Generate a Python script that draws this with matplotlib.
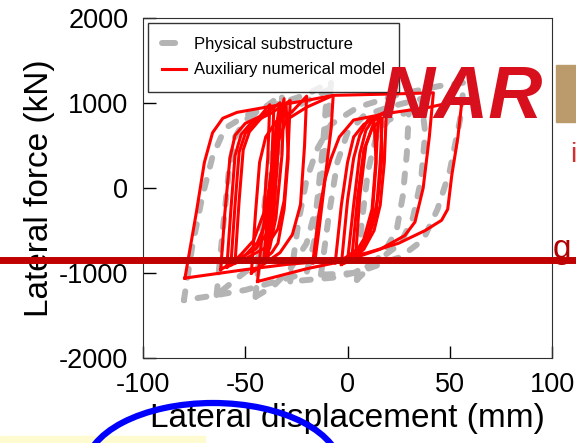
import numpy as np
import matplotlib
matplotlib.use('Agg')
import matplotlib.pyplot as plt
from matplotlib.patches import Arc, Rectangle
from matplotlib.lines import Line2D

plt.rcParams['font.family'] = ['Liberation Sans', 'DejaVu Sans']
plt.rcParams['axes.unicode_minus'] = False

# Physical substructure: one row per loading cycle (displacement mm, force kN)
phys_disp = [
    [-80, -76, -71, -66, -60, -50, -35, -20, -8, -10, -13, -16, -20, -35, -50, -64, -80],
    [-64, -61, -58, -55, -50, -42, -32, -33, -36, -40, -48, -56, -64],
    [-45, -42, -39, -35, -30, -22, -10, -12, -15, -20, -28, -36, -45],
    [-28, -24, -20, -15, -8, 5, 25, 45, 57, 55, 50, 46, 44, 37, 26, 10, -5, -28],
    [-13, -9, -5, 0, 8, 20, 36, 38, 36, 32, 26, 15, 4, -13],
    [4.6, 7, 10, 14, 20, 30, 29, 27, 24, 18, 12, 4.6],
]
phys_force = [
    [-1320, -700, -100, 370, 700, 850, 980, 1100, 1250, 700, 0, -600, -1000, -1100, -1200, -1260, -1320],
    [-1260, -500, 200, 600, 800, 920, 1100, 400, -300, -700, -950, -1100, -1260],
    [-1280, -500, 150, 600, 850, 1000, 1150, 500, -200, -650, -950, -1150, -1280],
    [-1100, -400, 100, 450, 750, 950, 1100, 1200, 1240, 800, 200, -100, -250, -610, -810, -950, -1050, -1100],
    [-1020, -300, 300, 650, 850, 950, 1050, 650, 100, -350, -650, -850, -1000, -1020],
    [-1080, -400, 200, 600, 800, 900, 400, -100, -500, -750, -900, -1080],
]

# Auxiliary numerical model
aux_disp = [
    [-79.5, -74, -70, -66, -61, -54, -40, -20, -7, -8, -11, -14, -16, -30, -50, -79.5],
    [-62, -60, -57.5, -55, -50, -42, -33, -34, -36, -39, -45, -53, -62],
    [-59, -57, -55, -52, -47, -38, -28, -29, -31, -34, -40, -49, -59],
    [-57, -55, -53, -50, -45, -38, -39, -41, -46, -52, -57],
    [-55, -53, -51, -48, -43, -36, -37, -39, -44, -50, -55],
    [-47, -45, -43, -40, -35, -27, -20, -21, -23, -27, -33, -40, -47],
    [-41, -38, -35, -33, -34, -36, -39, -41],
    [-40, -37, -34, -31, -32, -35, -38, -40],
    [-39, -36, -33, -30, -29, -31, -34, -37, -39],
    [-17, -14, -11, -8, -4, 3, 20, 40, 56, 54, 51, 49, 46, 38, 25, 10, -5, -17],
    [-44, -42, -39, -36, -30, -20, -7, 20, 42, 40, 37, 33, 28, 16, 0, -20, -44],
    [-6, -3, 0, 3, 8, 16, 17, 15, 12, 6, -1, -6],
    [-3, 0, 3, 6, 10, 19, 18, 16, 13, 8, 2, -3],
    [2, 5, 8, 12, 17, 16, 14, 10, 5, 2],
    [4, 6, 9, 13, 14, 12, 9, 4],
    [0, 3, 6, 9, 12, 15, 14, 12, 8, 3, 0],
]
aux_force = [
    [-1060, -300, 300, 650, 820, 890, 950, 1030, 1090, 700, 100, -500, -870, -900, -960, -1060],
    [-960, -300, 350, 620, 760, 850, 1000, 400, -200, -520, -720, -830, -960],
    [-930, -250, 380, 630, 770, 870, 1030, 450, -150, -480, -700, -820, -930],
    [-900, -200, 420, 640, 780, 980, 350, -300, -620, -780, -900],
    [-880, -150, 450, 660, 800, 960, 300, -350, -640, -790, -880],
    [-1000, -300, 300, 600, 780, 900, 1080, 500, -200, -550, -760, -880, -1000],
    [-850, 0, 700, 1000, 500, -300, -750, -850],
    [-820, 50, 720, 1050, 400, -350, -700, -820],
    [-800, 100, 760, 980, 350, -250, -650, -760, -800],
    [-880, -300, 100, 350, 600, 800, 880, 950, 1035, 600, 150, -250, -380, -500, -650, -760, -850, -880],
    [-1100, -600, -100, 400, 800, 950, 1090, 1105, 1120, 600, 0, -400, -560, -720, -850, -950, -1100],
    [-880, -200, 300, 600, 750, 850, 400, -100, -450, -700, -820, -880],
    [-900, -150, 350, 620, 800, 900, 300, -200, -500, -720, -850, -900],
    [-850, -100, 450, 700, 820, 300, -300, -600, -780, -850],
    [-800, -100, 500, 780, 300, -350, -650, -800],
    [-860, -200, 400, 680, 790, 820, 350, -250, -600, -800, -860],
]

W, H = 576, 443
fig = plt.figure(figsize=(W / 100, H / 100), dpi=100)
fig.patch.set_facecolor('white')

def fx(px):
    return px / W

def fy(py):
    return 1 - py / H

# slide background behind the chart
fig.text(fx(381), fy(118), 'NAR', fontsize=54, fontweight='bold', fontstyle='italic',
         color='#d8101e', zorder=0, family=['Liberation Sans'])
fig.add_artist(Rectangle((fx(556), fy(122)), fx(30), 57 / H, transform=fig.transFigure,
                         color='#bb9b6c', zorder=0))
fig.text(fx(570), fy(162), 'i', fontsize=20, color='#d03030', zorder=0)
fig.text(fx(553), fy(258), 'g', fontsize=24, color='#b00000', zorder=0)

ax = fig.add_axes([fx(143), fy(358), fx(552) - fx(143), (358 - 18) / H])
ax.set_facecolor('none')

for d, f in zip(phys_disp, phys_force):
    ax.plot(d, f, color='#b4b4b4', lw=4.3, dashes=(1.5, 2.3),
            dash_capstyle='round', solid_joinstyle='round', zorder=2)
for d, f in zip(aux_disp, aux_force):
    ax.plot(d, f, color='#ff0000', lw=2.2, solid_joinstyle='round', zorder=3)

ax.set_xlim(-100, 100)
ax.set_ylim(-2000, 2000)
ax.set_xticks([-100, -50, 0, 50, 100])
ax.set_yticks([-2000, -1000, 0, 1000, 2000])
ax.tick_params(direction='in', length=9, width=1, labelsize=19.5)
ax.tick_params(axis='x', pad=10)
ax.tick_params(axis='y', pad=10.5)
for s in ax.spines.values():
    s.set_color('#303030')
ax.set_xlabel('Lateral displacement (mm)', fontsize=24, labelpad=4)
ax.set_ylabel('Lateral force (kN)', fontsize=24, labelpad=3)

# legend: one long dash for the test curve
h1 = Line2D([], [], color='#b4b4b4', lw=4.3, dashes=(2.2, 4), dash_capstyle='round')
h2 = Line2D([], [], color='#ff0000', lw=2.2)
leg = ax.legend([h1, h2], ['Physical substructure', 'Auxiliary numerical model'],
                loc='upper left', fontsize=12, frameon=True, fancybox=False,
                edgecolor='black', handlelength=1.4, borderaxespad=0.3,
                handletextpad=0.5, borderpad=0.85, labelspacing=0.62)
leg.get_frame().set_linewidth(1)
leg.set_zorder(5)

# slide decorations drawn over the chart
fig.add_artist(Line2D([0, 1], [fy(260), fy(260)], transform=fig.transFigure,
                      color='#c00000', lw=5, zorder=4))
fig.add_artist(Rectangle((0, 0), fx(205), 7 / H, transform=fig.transFigure,
                         color='#fffbd0', zorder=1))
fig.add_artist(Arc((fx(213), fy(470)), 256 / W, 134 / H, transform=fig.transFigure,
                   color='#0000ff', lw=4.5, zorder=2))
ax.xaxis.label.set_zorder(6)

fig.savefig('out.png', dpi=100)
